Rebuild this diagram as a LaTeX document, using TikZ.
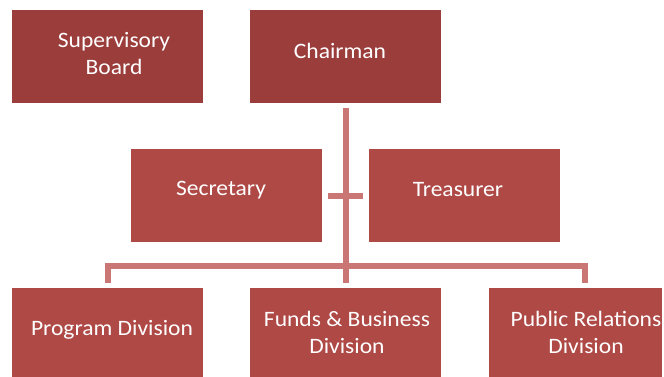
\documentclass[tikz,border=0pt]{standalone}
\usepackage{fontspec}
\setmainfont[FakeStretch=1.07]{Carlito}
\definecolor{boxdark}{HTML}{9A3D3B}
\definecolor{boxmid}{HTML}{AE4946}
\definecolor{linkcol}{HTML}{C97674}
\begin{document}
\begin{tikzpicture}[x=1pt,y=-1pt,
  box/.style={fill=#1,draw=none,minimum width=191pt,minimum height=93pt,inner sep=0pt,anchor=north west},
  lbl/.style={text=white,align=center,font=\fontsize{22}{27}\selectfont,inner sep=0pt},
  link/.style={draw=linkcol,line width=6pt}]
\useasboundingbox[fill=white] (0,0) rectangle (664,376);
% boxes
\node[box=boxdark] (sup) at (12,10) {};
\node[box=boxdark] (chair) at (250,10) {};
\node[box=boxmid] (sec) at (131,149) {};
\node[box=boxmid] (tre) at (369,149) {};
\node[box=boxmid] (prog) at (12,288) {};
\node[box=boxmid] (fund) at (250,288) {};
\node[box=boxmid,minimum width=173pt] (pub) at (489,288) {};
% labels
\node[lbl] (tsup) at (114,53.5) {Supervisory\\Board};
\node[lbl] (tchair) at (340,51) {Chairman};
\node[lbl] (tsec) at (221,190) {Secretary};
\node[lbl] (ttre) at (458,190) {Treasurer};
\node[lbl] (tprog) at (112,330) {Program Division};
\node[lbl] (tfund) at (347,332) {Funds \& Business\\Division};
\node[lbl] (tpub) at (586,332) {Public Relations\\Division};
% connectors
\coordinate (ctop) at (346,108);
\coordinate (cbot) at (346,283);
\coordinate (busL) at (108,266);
\coordinate (busR) at (585,266);
\coordinate (dropL) at (108,283);
\coordinate (dropR) at (585,283);
\coordinate (secR) at (328,196);
\coordinate (treL) at (363,196);
\draw[link] (ctop) -- (cbot);
\draw[link] (secR) -- (treL);
\draw[link,line join=miter] (dropL) -- (busL) -- (busR) -- (dropR);
\end{tikzpicture}
\end{document}
